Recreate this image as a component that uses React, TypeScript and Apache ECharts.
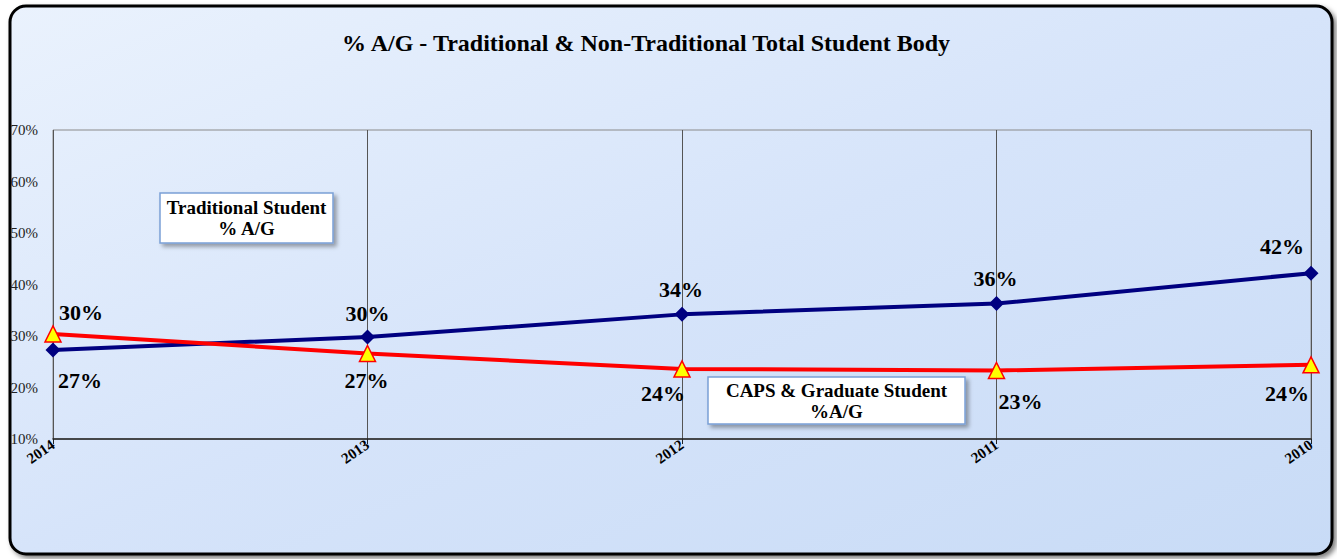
import React, { useEffect, useRef } from "react";
import * as echarts from "echarts";

const categories = ["2014", "2013", "2012", "2011", "2010"];
const traditional = [27.3, 29.8, 34.2, 36.3, 42.2];
const capsGraduate = [30.4, 26.6, 23.6, 23.3, 24.4];
const yTicks = { min: 10, max: 70, interval: 10 };

const titleText = "% A/G - Traditional & Non-Traditional Total Student Body";
const boxTraditional = "Traditional Student\n% A/G";
const boxCaps = "CAPS & Graduate Student\n%A/G";

// label offsets (style only)
const tradOffsets = [[27, 31], [0, -24], [-1, -25], [-1, -25], [-29, -27]];
const capsOffsets = [[28, -21], [-1, 27], [-19, 25], [24, 31], [-24, 29]];

const SERIF = "'Liberation Serif', 'Times New Roman', serif";

export default function App() {
  const ref = useRef<HTMLDivElement>(null);
  useEffect(() => {
    if (!ref.current) return;
    const chart = echarts.init(ref.current, null, { renderer: "svg" });
    const labelStyle = {
      show: true,
      position: "inside",
      fontFamily: SERIF,
      fontWeight: "bold",
      fontSize: 22,
      color: "#000",
      formatter: (p: any) => Math.round(p.value) + "%",
    };
    const box = (x: number, y: number, w: number, h: number, text: string) => ({
      type: "group",
      x,
      y,
      z: 50,
      children: [
        {
          type: "rect",
          shape: { x: 0, y: 0, width: w, height: h },
          style: {
            fill: "#ffffff",
            stroke: "#7ba0d6",
            lineWidth: 1.5,
            shadowBlur: 4,
            shadowOffsetX: 3,
            shadowOffsetY: 3,
            shadowColor: "rgba(0,0,0,0.35)",
          },
        },
        {
          type: "text",
          x: w / 2,
          y: h / 2,
          style: {
            text,
            fill: "#000",
            font: `bold 19px ${SERIF}`,
            align: "center",
            verticalAlign: "middle",
            lineHeight: 21,
          },
        },
      ],
    });
    chart.setOption({
      animation: false,
      title: {
        text: titleText,
        left: 337,
        top: 26,
        textStyle: { fontFamily: SERIF, fontWeight: "bold", fontSize: 24, color: "#000" },
      },
      graphic: [
        {
          type: "rect",
          z: -10,
          shape: { x: 10, y: 6, width: 1322, height: 548, r: 16 },
          style: {
            fill: {
              type: "linear",
              x: 0,
              y: 0,
              x2: 1,
              y2: 1,
              colorStops: [
                { offset: 0, color: "#eaf2fd" },
                { offset: 0.5, color: "#d6e4fa" },
                { offset: 1, color: "#c8dbf6" },
              ],
            },
            stroke: "#000",
            lineWidth: 3,
            shadowBlur: 5,
            shadowOffsetX: 3,
            shadowOffsetY: 3,
            shadowColor: "rgba(0,0,0,0.5)",
          },
        },
        box(160, 193, 173, 50, boxTraditional),
        box(708, 377, 257, 47, boxCaps),
      ],
      grid: {
        left: 53,
        right: 26,
        top: 130,
        bottom: 120,
        show: true,
        borderColor: "#8a8a8a",
        borderWidth: 1,
        backgroundColor: "transparent",
      },
      xAxis: {
        type: "category",
        data: categories,
        boundaryGap: false,
        axisLine: { show: true, lineStyle: { color: "#222", width: 1.5 } },
        axisTick: { show: true, length: 5, lineStyle: { color: "#222" } },
        splitLine: { show: true, lineStyle: { color: "#555", width: 1 } },
        axisLabel: {
          rotate: 35,
          margin: 4,
          fontFamily: SERIF,
          fontWeight: "bold",
          fontSize: 15,
          color: "#000",
        },
      },
      yAxis: {
        type: "value",
        min: yTicks.min,
        max: yTicks.max,
        interval: yTicks.interval,
        axisLine: { show: false },
        axisTick: { show: false },
        splitLine: { show: false },
        axisLabel: {
          formatter: "{value}%",
          margin: 15,
          fontFamily: SERIF,
          fontSize: 15,
          color: "#222",
        },
      },
      series: [
        {
          name: "Traditional Student % A/G",
          type: "line",
          data: traditional.map((v, i) => ({
            value: v,
            label: { offset: tradOffsets[i] },
          })),
          lineStyle: { color: "#000080", width: 4 },
          itemStyle: { color: "#000080" },
          symbol: "diamond",
          symbolSize: 15,
          label: labelStyle,
          z: 3,
        },
        {
          name: "CAPS & Graduate Student %A/G",
          type: "line",
          data: capsGraduate.map((v, i) => ({
            value: v,
            label: { offset: capsOffsets[i] },
          })),
          lineStyle: { color: "#ff0000", width: 4 },
          itemStyle: { color: "#ffff00", borderColor: "#ff0000", borderWidth: 1.5 },
          symbol: "triangle",
          symbolSize: 16,
          label: labelStyle,
          z: 4,
        },
      ],
    });
    return () => chart.dispose();
  }, []);
  return (
    <div
      ref={ref}
      style={{ position: "absolute", left: 0, top: 0, width: 1337, height: 559 }}
    />
  );
}
